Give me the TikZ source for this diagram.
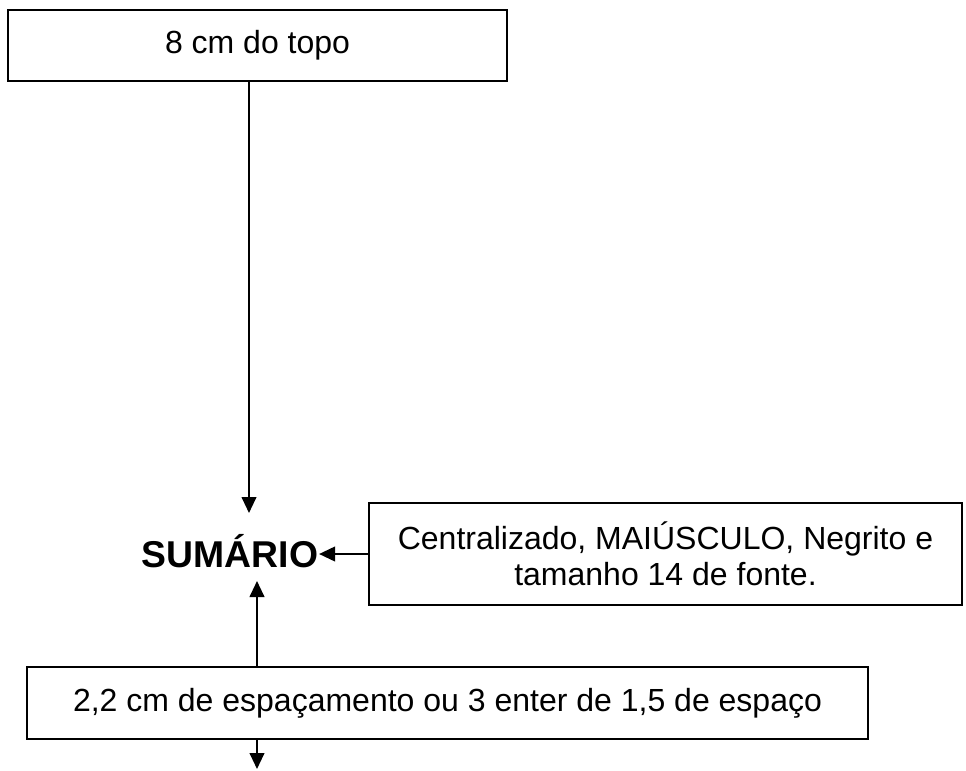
\documentclass[tikz,border=0pt]{standalone}
\usepackage{fontspec}
\setmainfont{Liberation Sans}
\usetikzlibrary{arrows.meta}

\tikzset{
    caixa/.style = {draw, line width=1.2pt, inner sep=0pt, align=center, font=\fontsize{24}{27}\selectfont},
    seta/.style = {line width=1.5pt, -{Triangle[width=11pt, length=12pt]}}
}

\begin{document}
\begin{tikzpicture}[x=0.75pt, y=-0.75pt]
    % Margini
    \useasboundingbox (0,0) rectangle (966,770);
    % Caixas
    \node[caixa, minimum width=499*0.75pt, minimum height=71*0.75pt] (topo) at (257.5,45.5) {8 cm do topo};
    \node[anchor=base, inner sep=2pt, font=\fontsize{28}{32}\selectfont\bfseries] (sumario) at (230,567) {SUMÁRIO};
    \node[caixa, minimum width=593*0.75pt, minimum height=102*0.75pt] (regras) at (665.5,554)
        {Centralizado, MAIÚSCULO, Negrito e\\ tamanho 14 de fonte.};
    \node[caixa, minimum width=841*0.75pt, minimum height=72*0.75pt] (espaco) at (447.5,703)
        {2,2 cm de espaçamento ou 3 enter de 1,5 de espaço};
    % Pontas
    \coordinate (ptopo) at (249,513);
    \coordinate (pcima) at (257,581);
    \coordinate (pbaixo) at (257,769);
    % Setas
    \draw[seta] (topo.south -| ptopo) -- (ptopo);
    \draw[seta] (regras.west) -- ([xshift=-1.5pt]regras.west -| sumario.east);
    \draw[seta] (espaco.north -| pcima) -- (pcima);
    \draw[seta] (espaco.south -| pbaixo) -- (pbaixo);
\end{tikzpicture}
\end{document}
